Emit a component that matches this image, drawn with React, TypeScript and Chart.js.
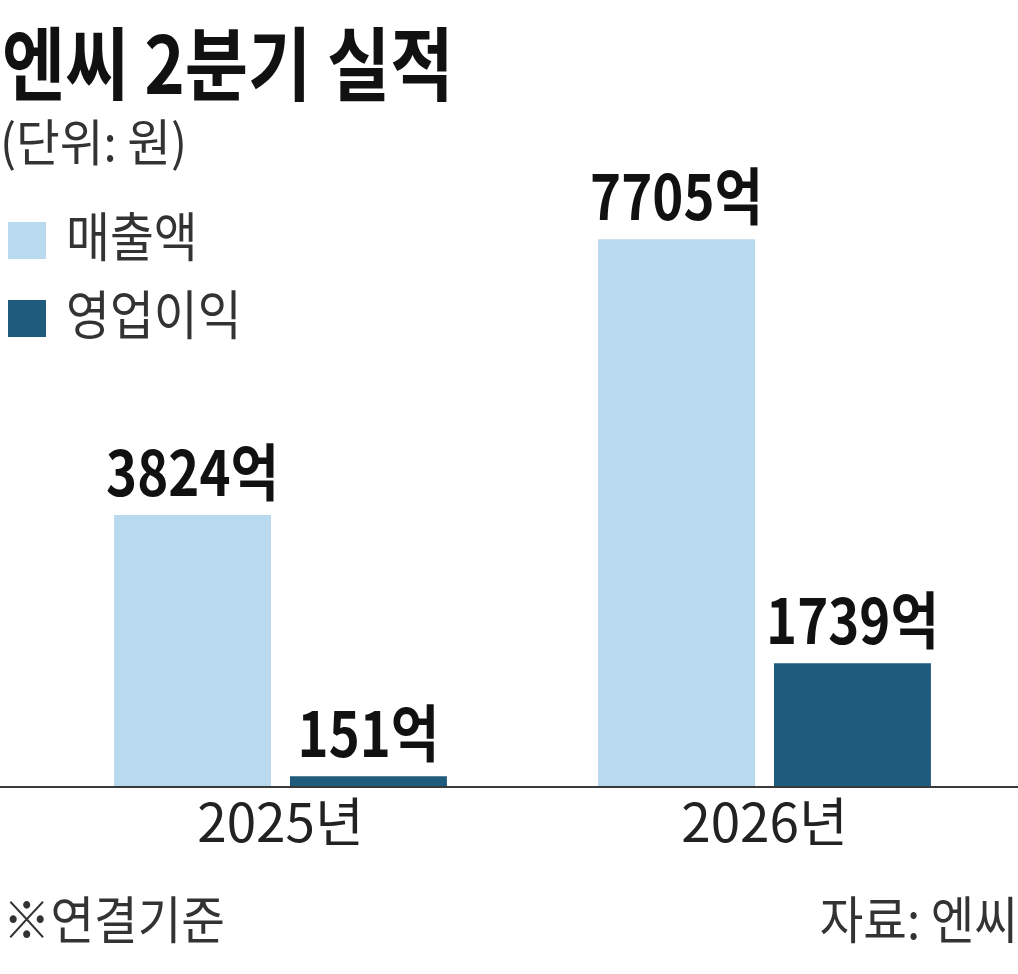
import React, { useEffect, useRef } from "react";
import { Chart, registerables } from "chart.js";

Chart.register(...registerables);

const categories = ["2025년", "2026년"];
const revenue = [3824, 7705];
const operatingProfit = [151, 1739];
const seriesNames = ["매출액", "영업이익"];
const seriesColors = ["#b9d9ef", "#1f5b7d"];
const title = "엔씨 2분기 실적";
const unitNote = "(단위: 원)";
const footLeft = "※연결기준";
const footRight = "자료: 엔씨";
const valueSuffix = "억";

const FONT = "'Noto Sans CJK KR', 'Noto Sans', sans-serif";

function drawScaled(
  ctx: CanvasRenderingContext2D,
  text: string,
  x: number,
  y: number,
  font: string,
  sx: number,
  align: CanvasTextAlign,
  color: string
) {
  ctx.save();
  ctx.font = font;
  ctx.fillStyle = color;
  ctx.textAlign = align;
  ctx.textBaseline = "alphabetic";
  ctx.translate(x, y);
  ctx.scale(sx, 1);
  ctx.fillText(text, 0, 0);
  ctx.restore();
}

const decorPlugin = {
  id: "decor",
  afterDatasetsDraw(chart: any) {
    const ctx: CanvasRenderingContext2D = chart.ctx;
    const area = chart.chartArea;
    // baseline across full width
    ctx.save();
    ctx.strokeStyle = "#3a3a3a";
    ctx.lineWidth = 2;
    ctx.beginPath();
    ctx.moveTo(0, area.bottom);
    ctx.lineTo(chart.width, area.bottom);
    ctx.stroke();
    ctx.restore();

    // value labels
    chart.data.datasets.forEach((ds: any, di: number) => {
      const meta = chart.getDatasetMeta(di);
      meta.data.forEach((bar: any, i: number) => {
        const v = ds.data[i];
        drawScaled(
          ctx,
          `${v}${valueSuffix}`,
          bar.x,
          bar.y - 19,
          `bold 62px ${FONT}`,
          0.85,
          "center",
          "#111111"
        );
      });
    });
  },
  afterDraw(chart: any) {
    const ctx: CanvasRenderingContext2D = chart.ctx;
    drawScaled(ctx, title, 2, 94, `bold 80px ${FONT}`, 0.86, "left", "#111111");
    drawScaled(ctx, unitNote, 0, 161, `50px ${FONT}`, 0.95, "left", "#333333");

    // legend
    const legendY = [222, 300];
    seriesNames.forEach((name, i) => {
      ctx.save();
      ctx.fillStyle = seriesColors[i];
      ctx.fillRect(8, legendY[i], 38, 37);
      ctx.restore();
      drawScaled(ctx, name, 66, legendY[i] + 35, `53px ${FONT}`, 0.9, "left", "#333333");
    });

    drawScaled(ctx, footLeft, 3, 939, `51px ${FONT}`, 0.93, "left", "#333333");
    drawScaled(ctx, footRight, 1018, 939, `51px ${FONT}`, 0.93, "right", "#333333");
  },
};

export default function App() {
  const ref = useRef<HTMLCanvasElement | null>(null);

  useEffect(() => {
    document.body.style.margin = "0";
    const canvas = ref.current;
    if (!canvas) return;
    const chart = new Chart(canvas, {
      type: "bar",
      data: {
        labels: categories,
        datasets: [
          {
            label: seriesNames[0],
            data: revenue,
            backgroundColor: seriesColors[0],
            categoryPercentage: 0.727,
            barPercentage: 0.892,
          },
          {
            label: seriesNames[1],
            data: operatingProfit,
            backgroundColor: seriesColors[1],
            categoryPercentage: 0.727,
            barPercentage: 0.892,
          },
        ],
      },
      options: {
        responsive: false,
        animation: false,
        devicePixelRatio: 1,
        layout: { padding: { left: 38.5, right: 11.5, top: 76, bottom: 0 } },
        plugins: {
          legend: { display: false },
          title: { display: false },
          tooltip: { enabled: false },
        },
        scales: {
          x: {
            grid: { display: false, drawTicks: false },
            border: { display: false },
            ticks: {
              color: "#222222",
              font: { family: FONT, size: 53, lineHeight: 1.2 },
              padding: 3,
            },
            afterFit: (scale: any) => {
              scale.height = 187;
            },
          },
          y: {
            display: false,
            min: 0,
            max: 10000,
          },
        },
      },
      plugins: [decorPlugin],
    });
    return () => chart.destroy();
  }, []);

  return (
    <div style={{ width: 1018, height: 974, background: "#ffffff" }}>
      <canvas ref={ref} width={1018} height={974} style={{ display: "block" }} />
    </div>
  );
}
